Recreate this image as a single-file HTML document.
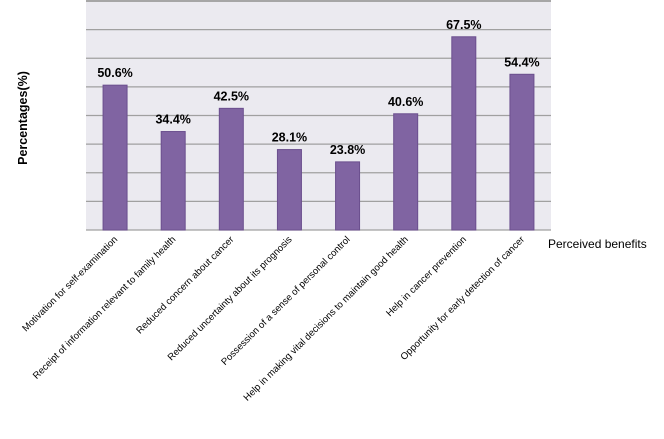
<!DOCTYPE html>
<html><head><meta charset="utf-8"><style>
html,body{margin:0;padding:0;background:#fff;}
svg{display:block;font-family:"Liberation Sans",sans-serif;}
</style></head><body>
<svg id="chart" width="664" height="439" viewBox="0 0 664 439">
<rect x="86" y="1" width="465" height="229" fill="#ebeaf0"/>
<g id="grid"></g>
<g id="bars"></g>
<g id="labels"></g>
<g id="cats"></g>
<text x="0" y="0" transform="translate(27,118) rotate(-90)" text-anchor="middle" font-size="12.5" font-weight="bold" fill="#000">Percentages(%)</text>
<text x="548" y="248" font-size="12" fill="#000">Perceived benefits</text>
</svg>
<script>
const categories = ["Motivation for self-examination","Receipt of information relevant to family health","Reduced concern about cancer","Reduced uncertainty about its prognosis","Possession of a sense of personal control","Help in making vital decisions to maintain good health","Help in cancer prevention","Opportunity for early detection of cancer"];
const values = [50.6, 34.4, 42.5, 28.1, 23.8, 40.6, 67.5, 54.4];
const valueLabels = ["50.6%","34.4%","42.5%","28.1%","23.8%","40.6%","67.5%","54.4%"];
const yTicks = [0,10,20,30,40,50,60,70,80];

const NS="http://www.w3.org/2000/svg";
const X0=86, X1=551, Y0=230, Y1=1, YMAX=80;
const band=(X1-X0)/categories.length;
const y=v=>Y0-(v/YMAX)*(Y0-Y1);
const xc=i=>X0+band*(i+0.5);
function mk(tag,attrs,parent){const e=document.createElementNS(NS,tag);for(const k in attrs)e.setAttribute(k,attrs[k]);parent.appendChild(e);return e;}
const grid=document.getElementById('grid'),bars=document.getElementById('bars'),labels=document.getElementById('labels'),cats=document.getElementById('cats');
yTicks.forEach((t,i)=>{
  const l=mk('line',{x1:X0,x2:X1,y1:y(t),y2:y(t),stroke:(t===YMAX?'#a6a6a6':'#a0a0a0'),'stroke-width':(t===YMAX?2:1.2)},grid);
  
  
});
values.forEach((v,i)=>{
  const bw=24;
  const r=mk('rect',{x:xc(i)-bw/2,y:y(v),width:bw,height:Y0-y(v),fill:'#8064a2',stroke:'#6b4f8e','stroke-width':1},bars);
  
  
  const t=mk('text',{x:xc(i),y:y(v)-8,'text-anchor':'middle','font-size':12.5,'font-weight':'bold',fill:'#000'},labels);
  t.textContent=valueLabels[i];
  
  
  const c=mk('text',{x:0,y:0,transform:'translate('+(xc(i)+3)+',240) rotate(-45)','text-anchor':'end','font-size':9.6,fill:'#000'},cats);
  c.textContent=categories[i];
  
  
});
</script>
</body></html>
